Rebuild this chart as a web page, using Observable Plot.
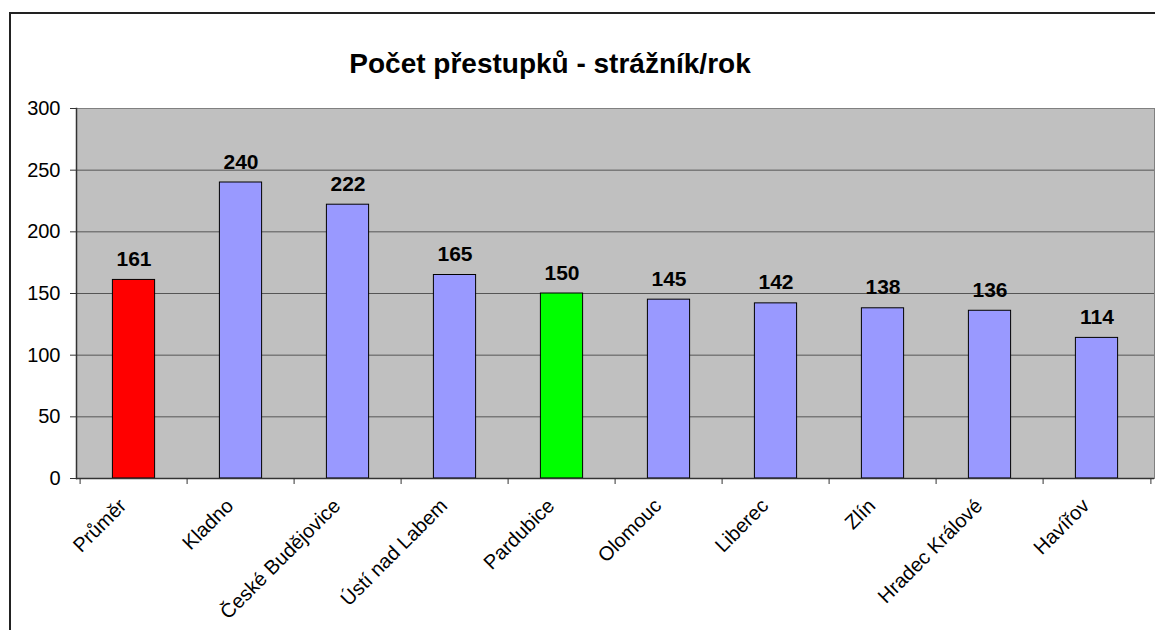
<!DOCTYPE html>
<html>
<head>
<meta charset="utf-8">
<script src="https://cdn.jsdelivr.net/npm/d3@7"></script>
<script src="https://cdn.jsdelivr.net/npm/@observablehq/plot@0.6"></script>
<style>
  html, body { margin: 0; padding: 0; background: #fff; overflow: hidden; }
  #wrap { position: relative; width: 1155px; height: 630px; overflow: hidden; font-family: "Liberation Sans", Arial, sans-serif; }
  #border { position: absolute; left: 9px; top: 12px; width: 1300px; height: 800px; border: 2px solid #222; box-sizing: border-box; }
  #title { position: absolute; left: 0; top: 50px; width: 1100px; text-align: center; font-size: 28px; line-height: 28px; font-weight: bold; color: #000; }
  #chart { position: absolute; left: 0; top: 0; }
</style>
</head>
<body>
<div id="wrap">
  <div id="border"></div>
  <div id="chart"></div>
  <div id="title">Počet přestupků - strážník/rok</div>
</div>
<script>
const cities = ["Průměr", "Kladno", "České Budějovice", "Ústí nad Labem", "Pardubice", "Olomouc", "Liberec", "Zlín", "Hradec Králové", "Havířov"];
const values = [161, 240, 222, 165, 150, 145, 142, 138, 136, 114];
const colors = ["#FF0000", "#9999FF", "#9999FF", "#9999FF", "#00FF00", "#9999FF", "#9999FF", "#9999FF", "#9999FF", "#9999FF"];
const yTicks = [0, 50, 100, 150, 200, 250, 300];

const data = cities.map((c, i) => ({city: c, value: values[i], color: colors[i]}));

const W = 1155, H = 630, mL = 76, mR = 1, mT = 108, mB = 152;
const bw = (W - mL - mR) / cities.length;
const inset = (bw - 43) / 2;
const font = "Liberation Sans, Arial, sans-serif";

const chart = Plot.plot({
  width: W,
  height: H,
  marginLeft: mL,
  marginRight: mR,
  marginTop: mT,
  marginBottom: mB,
  style: {fontFamily: font, background: "transparent", color: "#000"},
  x: {domain: cities, padding: 0, label: null},
  y: {domain: [0, 300], label: null},
  marks: [
    Plot.frame({fill: "#C0C0C0", stroke: "none"}),
    Plot.gridY(yTicks, {stroke: "#555", strokeOpacity: 1, strokeWidth: 1}),
    Plot.frame({stroke: "#808080", strokeWidth: 1}),
    Plot.barY(data, {x: "city", y: "value", fill: "color", stroke: "#000", strokeWidth: 1, insetLeft: inset, insetRight: inset}),
    Plot.text(data, {x: "city", y: "value", text: d => String(d.value), dy: -14, lineAnchor: "bottom", fontSize: 21, fontWeight: "bold", fill: "#000"}),
    Plot.ruleY([0], {stroke: "#333", strokeWidth: 1.5}),
    Plot.frame({anchor: "left", stroke: "#333", strokeWidth: 1.5}),
    Plot.axisY({ticks: yTicks, tickSize: 6, tickPadding: 10, fontSize: 20, stroke: "#333", label: null}),
    Plot.axisX({tickSize: 6, tickFormat: () => "", dx: -bw / 2, stroke: "#333", label: null}),
    Plot.axisX({ticks: [cities[cities.length - 1]], tickSize: 6, tickFormat: () => "", dx: bw / 2, stroke: "#333", label: null}),
    Plot.axisX({tickSize: 0, tickRotate: -45, tickPadding: 24, dx: -11, fontSize: 20, label: null})
  ]
});
document.getElementById("chart").appendChild(chart);
</script>
</body>
</html>
